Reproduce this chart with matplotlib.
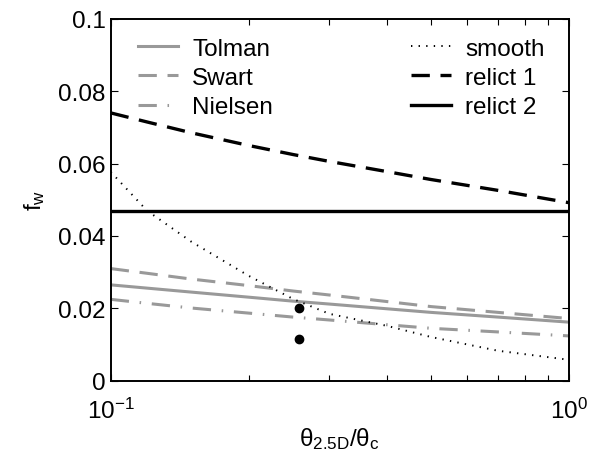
import numpy as np
import matplotlib.pyplot as plt
from matplotlib.ticker import NullFormatter

plt.rcParams['font.family'] = ['Liberation Sans', 'DejaVu Sans']
plt.rcParams['mathtext.fontset'] = 'custom'
plt.rcParams['mathtext.rm'] = 'Liberation Sans'
plt.rcParams['mathtext.it'] = 'Liberation Sans'
plt.rcParams['mathtext.default'] = 'regular'

# values
x = [0.1, 0.12, 0.15, 0.2, 0.25, 0.3, 0.4, 0.5, 0.7, 1.0]
tolman = [0.0265, 0.0256, 0.0245, 0.0231, 0.0220, 0.0212, 0.0199, 0.0189, 0.0176, 0.0162]
swart = [0.0310, 0.0297, 0.0281, 0.0263, 0.0248, 0.0237, 0.0219, 0.0205, 0.0189, 0.0172]
nielsen = [0.0225, 0.0214, 0.0201, 0.0187, 0.0176, 0.0168, 0.0155, 0.0145, 0.0135, 0.0124]
smooth = [0.0577, 0.0470, 0.0384, 0.0290, 0.0226, 0.0185, 0.0152, 0.0121, 0.0083, 0.0058]
relict1 = [0.0740, 0.0715, 0.0685, 0.0650, 0.0625, 0.0606, 0.0578, 0.0556, 0.0526, 0.0492]
relict2 = [0.047] * len(x)

dots_x = [0.257, 0.257]
dots_y = [0.0201, 0.0116]

gray = '#999999'

fig = plt.figure(figsize=(5.89, 4.6), dpi=100)
ax = fig.add_axes([0.188, 0.170, 0.778, 0.787])

l1, = ax.plot(x, tolman, color=gray, lw=2.2, label='Tolman')
l2, = ax.plot(x, swart, color=gray, lw=2.2, dashes=(6, 3.5), label='Swart')
l3, = ax.plot(x, nielsen, color=gray, lw=2.2, dashes=(6, 3.5, 0.5, 3.5), label='Nielsen')
l4, = ax.plot(x, smooth, color='k', lw=1.4, dashes=(0.7, 3.2), label='smooth')
l5, = ax.plot(x, relict1, color='k', lw=2.4, dashes=(5.5, 3.2), label='relict 1')
l6, = ax.plot(x, relict2, color='k', lw=2.4, label='relict 2')
ax.plot(dots_x, dots_y, 'o', color='k', ms=6)

ax.set_xscale('log')
ax.set_xlim(0.1, 1)
ax.set_ylim(0, 0.1)
ax.set_yticks([0, 0.02, 0.04, 0.06, 0.08, 0.1])
ax.set_yticklabels(['0', '0.02', '0.04', '0.06', '0.08', '0.1'])
ax.xaxis.set_minor_formatter(NullFormatter())

ax.tick_params(which='both', direction='in', top=True, right=True, labelsize=17.5)
ax.tick_params(which='major', length=5, width=0.8)
ax.tick_params(which='minor', length=4, width=0.8)
ax.tick_params(axis='x', which='major', pad=12)
for s in ax.spines.values():
    s.set_linewidth(1.4)

ax.set_xlabel(r'$\theta_{2.5D}/\theta_c$', fontsize=17.5, labelpad=2)
ax.set_ylabel(r'$f_w$', fontsize=17.5, labelpad=8)

leg1 = ax.legend(handles=[l1, l2, l3], loc='upper left', bbox_to_anchor=(0.022, 0.995),
                 frameon=False, fontsize=17.5, handlelength=1.65, handletextpad=0.58,
                 labelspacing=0.3, borderaxespad=0.3)
ax.add_artist(leg1)
ax.legend(handles=[l4, l5, l6], loc='upper left', bbox_to_anchor=(0.618, 0.995),
          frameon=False, fontsize=17.5, handlelength=1.65, handletextpad=0.58,
          labelspacing=0.3, borderaxespad=0.3)

fig.savefig('out.png', dpi=100)
